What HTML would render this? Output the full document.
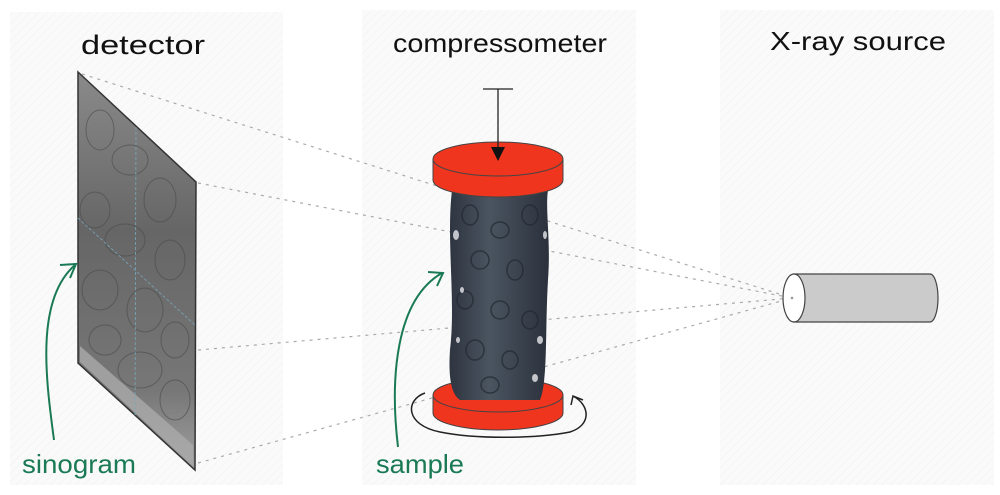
<!DOCTYPE html>
<html><head><meta charset="utf-8"><style>
html,body{margin:0;padding:0;background:#fff;width:1000px;height:495px;overflow:hidden}
svg{display:block}
text{font-family:"Liberation Sans",sans-serif}
</style></head><body>
<svg width="1000" height="495" viewBox="0 0 1000 495" xmlns="http://www.w3.org/2000/svg">
<defs>
<pattern id="hatch" width="6" height="6" patternUnits="userSpaceOnUse" patternTransform="rotate(45)">
<rect width="6" height="6" fill="#fafafa"/><line x1="0" y1="0" x2="0" y2="6" stroke="#f0f0f0" stroke-width="1"/>
</pattern>
<linearGradient id="det" x1="0" y1="0" x2="0" y2="1">
<stop offset="0" stop-color="#8a8a8a"/><stop offset="0.4" stop-color="#666"/><stop offset="0.8" stop-color="#777"/><stop offset="1" stop-color="#a0a0a0"/>
</linearGradient>
<linearGradient id="smp" x1="0" y1="0" x2="1" y2="0">
<stop offset="0" stop-color="#2e3440"/><stop offset="0.4" stop-color="#4a5560"/><stop offset="1" stop-color="#2b313c"/>
</linearGradient>
<clipPath id="dc"><polygon points="78,72 196,182 195,470 78,363"/></clipPath>
<clipPath id="sc"><path d="M452,190 C446,240 456,300 450,350 C448,380 452,395 460,400 L540,400 C548,380 545,330 548,280 C551,240 545,210 548,190 Z"/></clipPath>
</defs>
<rect x="10" y="12" width="273" height="473" fill="url(#hatch)"/>
<rect x="362" y="10" width="274" height="475" fill="url(#hatch)"/>
<rect x="720" y="10" width="274" height="475" fill="url(#hatch)"/>

<g stroke="#aaa" stroke-width="1.2" stroke-dasharray="3,5" fill="none">
<line x1="82" y1="74" x2="792" y2="298"/>
<line x1="198" y1="183" x2="792" y2="298"/>
<line x1="198" y1="350" x2="792" y2="298"/>
<line x1="198" y1="463" x2="792" y2="298"/>
</g>

<text x="143" y="54" font-size="27" text-anchor="middle" fill="#111" textLength="124" lengthAdjust="spacingAndGlyphs">detector</text>
<polygon points="78,72 196,182 195,470 78,363" fill="url(#det)"/>
<g clip-path="url(#dc)" fill="none" stroke="#4a4a4a" stroke-width="1" opacity="0.6">
<ellipse cx="100" cy="130" rx="14" ry="20"/><ellipse cx="130" cy="160" rx="18" ry="15"/><ellipse cx="160" cy="200" rx="16" ry="22"/>
<ellipse cx="95" cy="210" rx="15" ry="18"/><ellipse cx="125" cy="240" rx="20" ry="16"/><ellipse cx="170" cy="260" rx="15" ry="20"/>
<ellipse cx="100" cy="290" rx="18" ry="20"/><ellipse cx="145" cy="310" rx="18" ry="22"/><ellipse cx="175" cy="340" rx="14" ry="18"/>
<ellipse cx="105" cy="340" rx="16" ry="15"/><ellipse cx="140" cy="370" rx="22" ry="18"/><ellipse cx="175" cy="400" rx="15" ry="20"/>
</g>
<polygon points="80,362 193,466 193,445 80,346" fill="#aaa" opacity="0.8"/>
<polygon points="78,72 196,182 195,470 78,363" fill="none" stroke="#333" stroke-width="1.5"/>
<line x1="136" y1="127" x2="135" y2="415" stroke="#7ab" stroke-width="0.8" stroke-dasharray="3,2"/>
<line x1="78" y1="218" x2="195" y2="325" stroke="#7ab" stroke-width="0.8" stroke-dasharray="3,2"/>

<path d="M54,440 C46,380 35,300 75,265" stroke="#1a7a55" stroke-width="2" fill="none"/>
<path d="M60,265 L76,264 L70,278" stroke="#1a7a55" stroke-width="2" fill="none"/>
<text x="22" y="473" font-size="26" fill="#1a7a55" textLength="114" lengthAdjust="spacingAndGlyphs">sinogram</text>

<text x="393" y="52" font-size="26" fill="#111" textLength="214" lengthAdjust="spacingAndGlyphs">compressometer</text>

<path d="M433,395 L433,413 A65,17 0 0 0 563,413 L563,395" fill="#f0351f" stroke="#444" stroke-width="1"/>
<ellipse cx="498" cy="395" rx="65" ry="17" fill="#f0351f" stroke="#444" stroke-width="1"/>
<path d="M452,190 C446,240 456,300 450,350 C448,380 452,395 460,400 L540,400 C548,380 545,330 548,280 C551,240 545,210 548,190 Z" fill="url(#smp)"/>
<g clip-path="url(#sc)" fill="none" stroke="#222831" stroke-width="1.5" opacity="0.7">
<ellipse cx="470" cy="215" rx="8" ry="10"/><ellipse cx="500" cy="230" rx="9" ry="8"/><ellipse cx="530" cy="215" rx="8" ry="10"/>
<ellipse cx="480" cy="260" rx="9" ry="9"/><ellipse cx="515" cy="270" rx="8" ry="10"/><ellipse cx="465" cy="300" rx="8" ry="9"/>
<ellipse cx="500" cy="310" rx="9" ry="9"/><ellipse cx="530" cy="320" rx="8" ry="9"/><ellipse cx="475" cy="350" rx="9" ry="10"/>
<ellipse cx="510" cy="360" rx="8" ry="9"/><ellipse cx="490" cy="385" rx="9" ry="8"/>
</g>
<g fill="#e8e8ec" opacity="0.8">
<ellipse cx="456" cy="235" rx="3" ry="5"/><ellipse cx="545" cy="235" rx="2" ry="4"/><ellipse cx="540" cy="340" rx="3" ry="4"/><ellipse cx="458" cy="340" rx="2" ry="3"/><ellipse cx="535" cy="378" rx="3" ry="4"/><ellipse cx="462" cy="290" rx="2" ry="3"/>
</g>
<path d="M433,159 L433,180 A65,17 0 0 0 563,180 L563,159" fill="#f0351f" stroke="#444" stroke-width="1"/>
<ellipse cx="498" cy="159" rx="65" ry="17" fill="#f0351f" stroke="#444" stroke-width="1"/>
<line x1="483" y1="89" x2="513" y2="89" stroke="#222" stroke-width="1.3"/>
<line x1="498" y1="89" x2="498" y2="150" stroke="#222" stroke-width="1.3"/>
<polygon points="491,147 505,147 498,161" fill="#111"/>
<path d="M425,393 C405,400 405,425 440,432 C480,440 540,438 570,432 C592,425 590,405 573,396" stroke="#222" stroke-width="1.5" fill="none"/>
<path d="M571,405 L573,396 L583,400" stroke="#222" stroke-width="1.5" fill="none"/>
<path d="M398,447 C390,380 395,300 442,273" stroke="#1a7a55" stroke-width="2" fill="none"/>
<path d="M428,272 L443,273 L437,286" stroke="#1a7a55" stroke-width="2" fill="none"/>
<text x="376" y="473" font-size="26" fill="#1a7a55" textLength="88" lengthAdjust="spacingAndGlyphs">sample</text>

<text x="770" y="50" font-size="26" fill="#111" textLength="176" lengthAdjust="spacingAndGlyphs">X-ray source</text>
<path d="M794,274 L930,274 A8,24 0 0 1 930,322 L794,322 Z" fill="#cbcbcb" stroke="#444" stroke-width="1.2"/>
<ellipse cx="794" cy="298" rx="11" ry="24" fill="#fff" stroke="#444" stroke-width="1.2"/>
<circle cx="792" cy="298" r="1.3" fill="#999"/>
</svg>
</body></html>
